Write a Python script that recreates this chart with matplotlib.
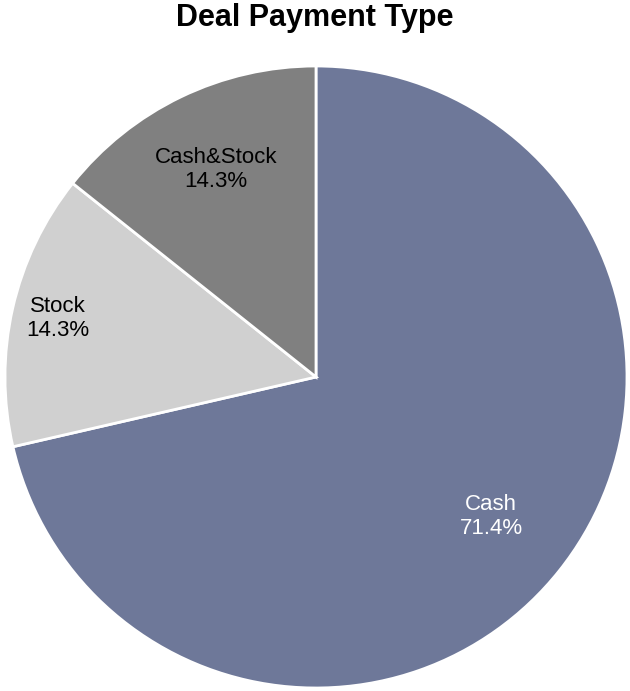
import matplotlib
matplotlib.use("Agg")
import matplotlib.pyplot as plt
import numpy as np

plt.rcParams['font.family'] = ['Liberation Sans', 'DejaVu Sans']

categories = ["Cash", "Stock", "Cash&Stock"]
values = [71.4, 14.3, 14.3]
colors = ["#6E7899", "#D0D0D0", "#808080"]
text_colors = ["white", "black", "black"]
label_dist = [0.72, 0.85, 0.74]

fig = plt.figure(figsize=(6.3, 6.91), dpi=100)
ax = fig.add_axes([5/630, 3/691, 622/630, 622/691])
wedges, _ = ax.pie(values, colors=colors, startangle=90, counterclock=False,
                   wedgeprops=dict(edgecolor="white", linewidth=2))
for w, cat, v, tc, d in zip(wedges, categories, values, text_colors, label_dist):
    ang = np.deg2rad((w.theta1 + w.theta2) / 2)
    ax.text(d*np.cos(ang), d*np.sin(ang), f"{cat}\n{v:.1f}%", ha="center", va="center",
            fontsize=16, color=tc, linespacing=1.2)
ax.set_xlim(-1, 1); ax.set_ylim(-1, 1)
ax.set_aspect("auto")
fig.text(0.5, 1 - 18/691, "Deal Payment Type", ha="center", va="center",
         fontsize=22, fontweight="bold")
fig.savefig("out.png", dpi=100)
